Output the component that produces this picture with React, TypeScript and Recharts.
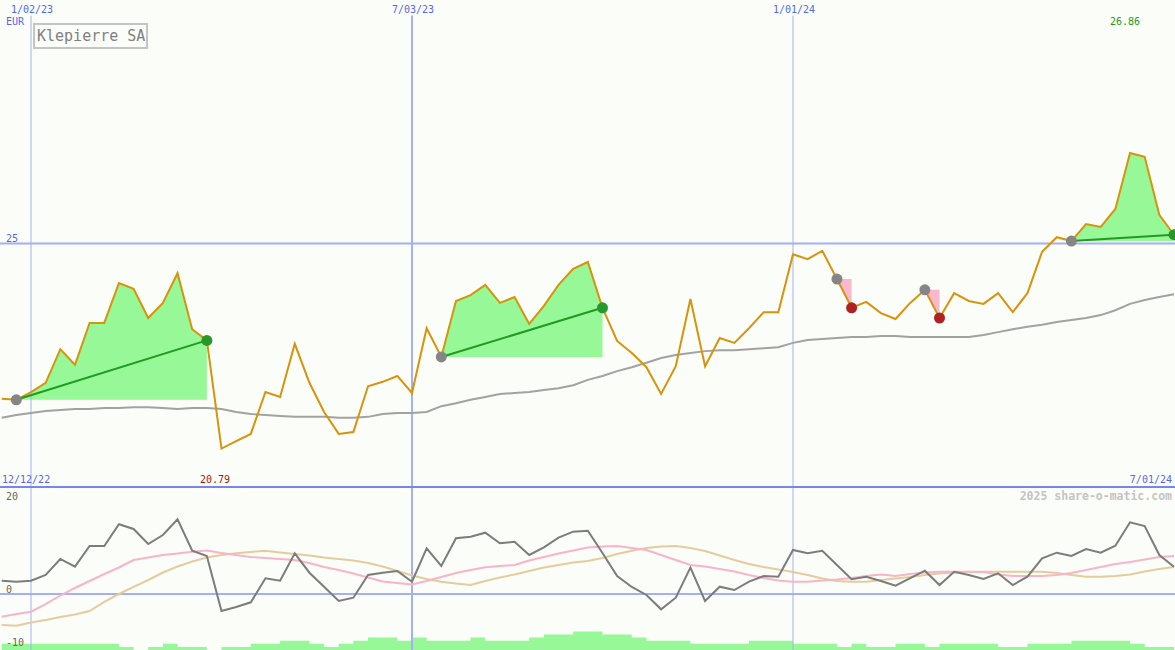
import React from 'react';
import { ComposedChart, Line, Area, XAxis, YAxis, ReferenceLine } from 'recharts';

// weekly closing prices (EUR), 19 Dec 2022 .. 1 Jul 2024
const price = [
  21.81, 21.79, 21.95, 22.14, 22.83, 22.51, 23.37, 23.37, 24.19, 24.07,
  23.47, 23.78, 24.39, 23.24, 23.01, 20.79, 20.94, 21.09, 21.95, 21.85,
  22.94, 22.14, 21.54, 21.09, 21.13, 22.07, 22.16, 22.28, 21.93, 23.26,
  22.67, 23.82, 23.94, 24.15, 23.78, 23.90, 23.35, 23.72, 24.15, 24.48,
  24.62, 23.68, 23.00, 22.75, 22.46, 21.91, 22.48, 23.86, 22.48, 23.06,
  22.96, 23.26, 23.59, 23.59, 24.78, 24.68, 24.85, 24.27, 23.68, 23.80,
  23.57, 23.45, 23.78, 24.05, 23.47, 23.98, 23.82, 23.76, 23.98, 23.59,
  23.98, 24.83, 25.13, 25.05, 25.40, 25.34, 25.71, 26.86, 26.78, 25.59,
  25.18,
];

const movingAvg = [
  21.42, 21.48, 21.52, 21.56, 21.58, 21.60, 21.60, 21.62, 21.62, 21.64,
  21.64, 21.62, 21.60, 21.62, 21.62, 21.60, 21.54, 21.50, 21.48, 21.46,
  21.44, 21.44, 21.44, 21.42, 21.42, 21.44, 21.50, 21.52, 21.52, 21.54,
  21.66, 21.72, 21.79, 21.85, 21.91, 21.93, 21.95, 21.99, 22.03, 22.09,
  22.20, 22.28, 22.38, 22.46, 22.55, 22.65, 22.71, 22.75, 22.79, 22.81,
  22.81, 22.83, 22.85, 22.87, 22.96, 23.02, 23.04, 23.06, 23.08, 23.08,
  23.10, 23.10, 23.08, 23.08, 23.08, 23.08, 23.08, 23.12, 23.18, 23.24,
  23.29, 23.33, 23.39, 23.43, 23.47, 23.53, 23.63, 23.76, 23.84, 23.90,
  23.96,
];

const oscillator = [
  2.83, 2.62, 2.83, 4.04, 7.45, 5.81, 10.21, 10.21, 14.83, 13.83,
  10.64, 12.55, 15.89, 9.21, 8.09, -3.62, -2.77, -1.77, 3.34, 2.83,
  8.66, 4.53, 1.55, -1.49, -0.79, 4.04, 4.53, 4.89, 2.62, 9.72,
  5.96, 11.85, 12.19, 13.04, 10.79, 11.13, 8.30, 9.94, 11.98, 13.26,
  13.47, 8.72, 3.83, 1.49, -0.21, -3.26, -0.79, 5.60, -1.49, 1.55,
  0.85, 2.62, 3.83, 3.68, 9.36, 8.66, 9.21, 6.17, 3.13, 3.68,
  2.77, 1.77, 3.40, 4.96, 1.91, 4.74, 4.04, 3.19, 4.40, 1.91,
  3.68, 7.60, 8.79, 8.09, 9.57, 8.79, 10.28, 15.26, 14.47, 8.30,
  5.81,
];

const oscFast = [
  -4.83, -4.26, -3.77, -2.13, -0.32, 1.28, 2.77, 4.26, 5.64, 7.23,
  7.77, 8.30, 8.62, 9.00, 9.26, 8.72, 8.30, 7.87, 7.66, 7.45,
  7.23, 6.60, 5.74, 5.11, 4.36, 3.51, 2.66, 2.34, 2.02, 2.77,
  3.62, 4.47, 5.11, 5.68, 5.96, 6.17, 7.13, 7.87, 8.62, 9.26,
  9.89, 10.11, 10.21, 9.79, 9.36, 8.30, 7.23, 6.17, 5.85, 5.32,
  4.79, 4.04, 3.40, 2.87, 2.62, 2.62, 2.87, 3.09, 3.40, 3.83,
  4.15, 3.83, 4.26, 4.57, 4.74, 4.74, 4.74, 4.68, 4.15, 3.83,
  3.83, 3.83, 4.04, 4.47, 5.11, 5.74, 6.38, 6.81, 7.34, 7.87,
  8.09,
];

const oscSlow = [
  -6.60, -6.74, -6.06, -5.53, -4.89, -4.36, -3.62, -1.70, 0.00, 1.50,
  2.98, 4.57, 5.85, 6.91, 7.77, 8.30, 8.66, 8.94, 9.21, 8.83,
  8.51, 8.19, 7.77, 7.45, 7.13, 6.60, 5.85, 4.89, 3.94, 3.19,
  2.62, 2.23, 1.91, 2.77, 3.51, 4.15, 4.89, 5.64, 6.17, 6.70,
  7.02, 7.66, 8.51, 9.21, 9.79, 10.11, 10.21, 9.79, 9.15, 8.19,
  7.23, 6.38, 5.74, 5.21, 4.68, 4.04, 3.30, 2.77, 2.62, 2.62,
  2.98, 3.30, 3.62, 4.04, 4.36, 4.57, 4.68, 4.74, 4.74, 4.74,
  4.74, 4.74, 4.47, 4.04, 3.68, 3.68, 3.83, 4.15, 4.79, 5.32,
  5.74,
];

const volume = [
  2, 2, 2, 2, 2, 2, 2, 2, 2, 1,
  0, 1, 2, 1, 1, 0, 1, 1, 2, 2,
  3, 3, 2, 1, 2, 3, 4, 4, 3, 4,
  3, 3, 3, 4, 3, 3, 3, 4, 5, 5,
  6, 6, 5, 5, 4, 3, 3, 3, 2, 2,
  2, 2, 3, 3, 3, 2, 2, 2, 1, 2,
  1, 1, 2, 2, 1, 2, 2, 2, 2, 1,
  1, 2, 2, 2, 3, 3, 3, 3, 2, 1,
  1,
];

const dateTicks = [2, 28, 54];
const dateLabels = ['1/02/23', '7/03/23', '1/01/24'];
const priceTicks = [25];
const oscTicks = [20, 0, -10];
const startLabel = '12/12/22';
const endLabel = '7/01/24';
const currency = 'EUR';
const title = 'Klepierre SA';
const credit = '2025 share-o-matic.com';

// [start index, end index]
const upSignals = [[1, 14], [30, 41], [73, 80]];
const downSignals = [[57, 58], [63, 64]];

const W = 1175;
const H = 650;
const TOP_H = 487;
const BOT_H = 163;
const X_DOMAIN: [number, number] = [-0.116, 80.07];
const PRICE_DOMAIN: [number, number] = [20, 30];
const OSC_DOMAIN: [number, number] = [-11.915, 22.766];
const VOL_DOMAIN: [number, number] = [0, 52.58];
const GRID_TOP = 29.68;

const BG = '#fbfdf9';
const BLUE_TXT = '#5468ee';
const GRID = '#a4b0f2';
const MONO = '"DejaVu Sans Mono", "Liberation Mono", monospace';

const rows = price.map((p, i) => {
  const r: any = {
    k: i,
    price: p,
    ma: movingAvg[i],
    osc: oscillator[i],
    fast: oscFast[i],
    slow: oscSlow[i],
    vol: volume[i],
  };
  upSignals.forEach(([a, b], j) => {
    if (i >= a && i <= b) r['up' + j] = [price[a], p];
    if (i === a || i === b) r['tr' + j] = p;
  });
  downSignals.forEach(([a, b], j) => {
    if (i >= a && i <= b) r['dn' + j] = [price[a], p];
  });
  if (upSignals.some((s) => s[0] === i) || downSignals.some((s) => s[0] === i)) r.mStart = p;
  if (upSignals.some((s) => s[1] === i)) r.mUp = p;
  if (downSignals.some((s) => s[1] === i)) r.mDown = p;
  return r;
});

const maxPrice = Math.max(...price);
const minPrice = Math.min(...price);

const DateLabel = (props: any) => {
  const vb = props.viewBox || {};
  return (
    <text x={(vb.x || 0) + 1} y={(vb.y || 0) - 3} textAnchor="middle" fontFamily={MONO} fontSize={10} fill={BLUE_TXT}>
      {props.text}
    </text>
  );
};

const LeftLabel = (props: any) => {
  const vb = props.viewBox || {};
  return (
    <text x={6} y={(vb.y || 0) + (props.dy || 0)} textAnchor="start" fontFamily={MONO} fontSize={10} fill={props.color}>
      {props.text}
    </text>
  );
};

const gridWidths = [1, 2, 1];

export default function App() {
  return (
    <div style={{ position: 'absolute', left: 0, top: 0, width: W, height: H, background: BG, overflow: 'hidden' }}>
      <div style={{ position: 'absolute', left: 0, top: 0 }}>
        <ComposedChart width={W} height={TOP_H} data={rows} margin={{ top: 0, right: 0, bottom: 0, left: 0 }}>
          <XAxis dataKey="k" type="number" domain={X_DOMAIN} allowDataOverflow hide />
          <YAxis domain={PRICE_DOMAIN} allowDataOverflow hide />
          {priceTicks.map((t) => (
            <ReferenceLine
              key={'p' + t}
              y={t}
              stroke={GRID}
              strokeWidth={2}
              label={<LeftLabel text={String(t)} dy={-1.5} color={BLUE_TXT} />}
            />
          ))}
          {dateTicks.map((t, i) => (
            <ReferenceLine
              key={'v' + t}
              segment={[{ x: t, y: GRID_TOP }, { x: t, y: PRICE_DOMAIN[0] }]}
              stroke={GRID}
              strokeWidth={gridWidths[i]}
              label={<DateLabel text={dateLabels[i]} />}
            />
          ))}
          <Line dataKey="ma" type="linear" stroke="#a2a2a2" strokeWidth={2} dot={false} activeDot={false} isAnimationActive={false} />
          {upSignals.map((_, j) => (
            <Area
              key={'up' + j}
              dataKey={'up' + j}
              type="linear"
              stroke="none"
              fill="#96f896"
              fillOpacity={1}
              activeDot={false}
              isAnimationActive={false}
            />
          ))}
          {downSignals.map((_, j) => (
            <Area
              key={'dn' + j}
              dataKey={'dn' + j}
              type="linear"
              stroke="none"
              fill="#f9b8cb"
              fillOpacity={1}
              activeDot={false}
              isAnimationActive={false}
            />
          ))}
          <Line dataKey="price" type="linear" stroke="#d8930c" strokeWidth={2} dot={false} activeDot={false} isAnimationActive={false} />
          {upSignals.map((_, j) => (
            <Line
              key={'tr' + j}
              dataKey={'tr' + j}
              type="linear"
              connectNulls
              stroke="#229a22"
              strokeWidth={2}
              dot={false}
              activeDot={false}
              isAnimationActive={false}
            />
          ))}
          <Line dataKey="mStart" stroke="none" dot={{ r: 5.5, fill: '#858585', stroke: 'none' }} activeDot={false} isAnimationActive={false} />
          <Line dataKey="mUp" stroke="none" dot={{ r: 5.5, fill: '#26992a', stroke: 'none' }} activeDot={false} isAnimationActive={false} />
          <Line dataKey="mDown" stroke="none" dot={{ r: 5.5, fill: '#b02222', stroke: 'none' }} activeDot={false} isAnimationActive={false} />
        </ComposedChart>
      </div>

      <div style={{ position: 'absolute', left: 0, top: TOP_H }}>
        <ComposedChart width={W} height={BOT_H} data={rows} margin={{ top: 0, right: 0, bottom: 0, left: 0 }}>
          <XAxis dataKey="k" type="number" domain={X_DOMAIN} allowDataOverflow hide />
          <YAxis domain={OSC_DOMAIN} allowDataOverflow hide />
          <YAxis yAxisId="vol" domain={VOL_DOMAIN} allowDataOverflow hide />
          <Area
            yAxisId="vol"
            dataKey="vol"
            type="stepBefore"
            stroke="none"
            fill="#96f896"
            fillOpacity={1}
            activeDot={false}
            isAnimationActive={false}
          />
          {dateTicks.map((t, i) => (
            <ReferenceLine key={'bv' + t} x={t} stroke={GRID} strokeWidth={gridWidths[i]} />
          ))}
          <ReferenceLine y={0} stroke={GRID} strokeWidth={2} />
          <Line dataKey="slow" type="linear" stroke="#e4cc9c" strokeWidth={2} dot={false} activeDot={false} isAnimationActive={false} />
          <Line dataKey="fast" type="linear" stroke="#f8b4c8" strokeWidth={2} dot={false} activeDot={false} isAnimationActive={false} />
          <Line dataKey="osc" type="linear" stroke="#7c7c7c" strokeWidth={2} dot={false} activeDot={false} isAnimationActive={false} />
          {oscTicks.map((t) => (
            <ReferenceLine
              key={'o' + t}
              y={t}
              stroke="none"
              label={<LeftLabel text={String(t)} dy={t < 0 ? 5 : t === 0 ? -1 : 0} color="#666666" />}
            />
          ))}
        </ComposedChart>
      </div>

      <div style={{ position: 'absolute', left: 0, top: 485.5, width: W, height: 2, background: '#7886ec' }} />

      <svg
        width={W}
        height={H}
        style={{ position: 'absolute', left: 0, top: 0, pointerEvents: 'none' }}
        fontFamily={MONO}
      >
        <text x={6} y={25} fontSize={10} fill={BLUE_TXT}>{currency}</text>
        <rect x={34} y={24} width={113} height={24} fill={BG} stroke="#c4c4c4" strokeWidth={2} />
        <text x={37} y={41} fontSize={15} fill="#808080">{title}</text>
        <text x={1140} y={25} fontSize={10} fill="#1c9a1c" textAnchor="end">{maxPrice.toFixed(2)}</text>
        <text x={2} y={483} fontSize={10} fill={BLUE_TXT}>{startLabel}</text>
        <text x={200} y={483} fontSize={10} fill="#a01818">{minPrice.toFixed(2)}</text>
        <text x={1172} y={483} fontSize={10} fill={BLUE_TXT} textAnchor="end">{endLabel}</text>
        <text x={1172} y={500} fontSize={11.5} fontWeight="bold" fill="#c4c4c4" textAnchor="end">{credit}</text>
      </svg>
    </div>
  );
}
